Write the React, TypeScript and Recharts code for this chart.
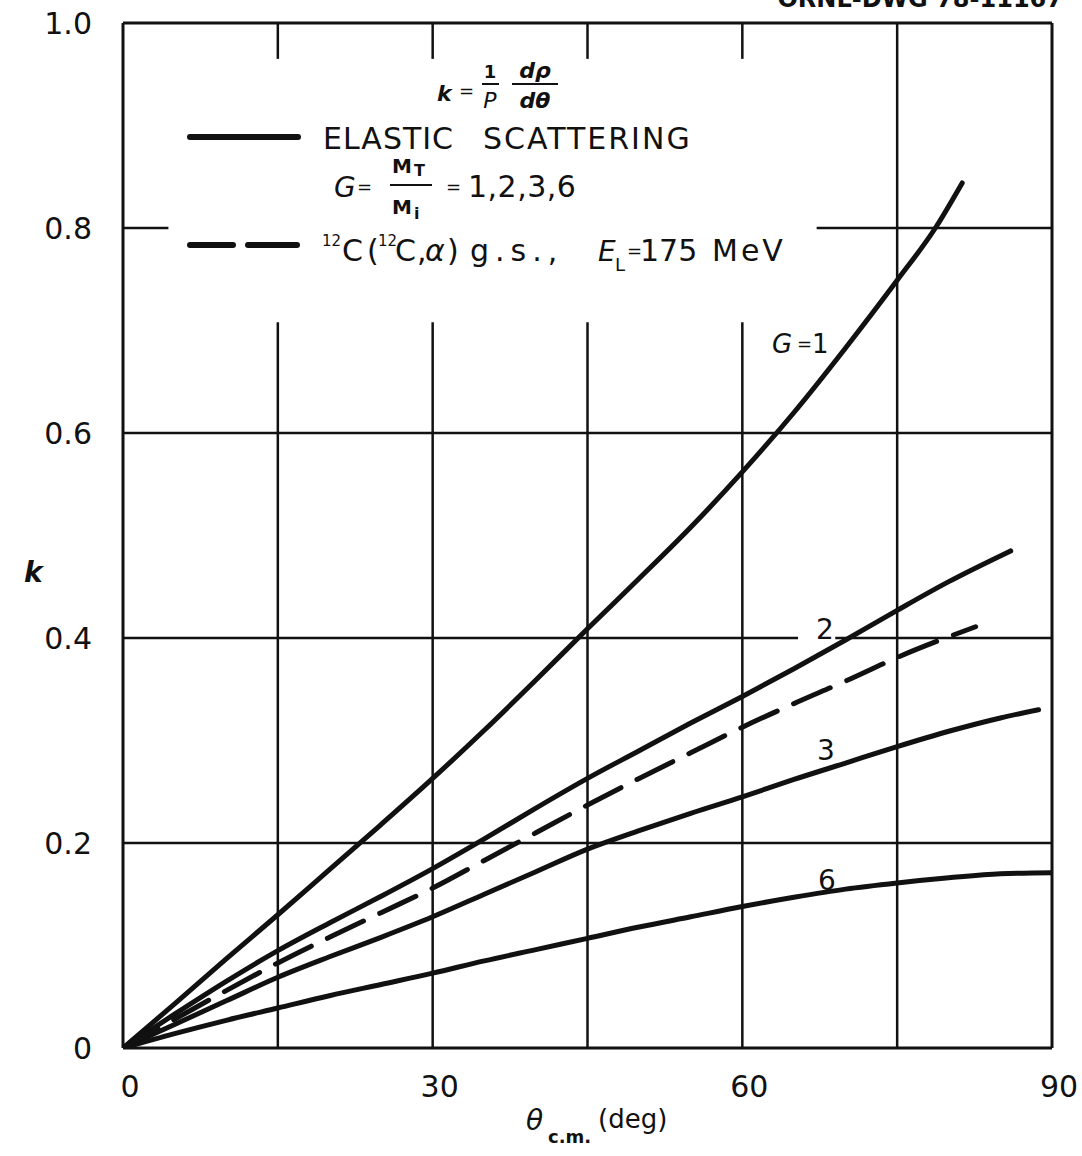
import { Line, LineChart, ReferenceLine, XAxis, YAxis } from "recharts";

const FONT = '"DejaVu Sans", sans-serif';
const INK = "#111";

const xTicks = [0, 30, 60, 90];
const yTicks = [0, 0.2, 0.4, 0.6, 0.8, 1.0];

// elastic scattering, G = M_T / M_i
const g1Theta = [0, 5, 10, 15, 20, 25, 30, 35, 40, 45, 50, 55, 60, 65, 70, 75, 78.7, 81.3];
const g1K = [0, 0.043, 0.087, 0.13, 0.174, 0.218, 0.263, 0.31, 0.359, 0.409, 0.458, 0.508, 0.562, 0.62, 0.683, 0.749, 0.8, 0.844];

const g2Theta = [0, 5, 10, 15, 20, 25, 30, 35, 40, 45, 50, 55, 60, 65, 70, 75, 80, 86];
const g2K = [0, 0.033, 0.065, 0.095, 0.122, 0.148, 0.175, 0.204, 0.234, 0.263, 0.29, 0.317, 0.343, 0.37, 0.398, 0.427, 0.455, 0.485];

const g3Theta = [0, 5, 10, 15, 20, 25, 30, 35, 40, 45, 50, 55, 60, 65, 70, 75, 80, 85, 88.7];
const g3K = [0, 0.023, 0.046, 0.069, 0.089, 0.108, 0.128, 0.15, 0.172, 0.194, 0.212, 0.229, 0.245, 0.262, 0.278, 0.294, 0.309, 0.322, 0.33];

const g6Theta = [0, 5, 10, 15, 20, 25, 30, 35, 40, 45, 50, 55, 60, 65, 70, 75, 80, 85, 90];
const g6K = [0, 0.014, 0.027, 0.039, 0.051, 0.062, 0.073, 0.085, 0.096, 0.107, 0.118, 0.128, 0.138, 0.147, 0.155, 0.161, 0.166, 0.17, 0.171];

// 12C(12C,alpha) g.s., E_L = 175 MeV
const alphaTheta = [0, 5, 10, 15, 20, 25, 30, 35, 40, 45, 50, 55, 60, 65, 70, 75, 82.6];
const alphaK = [0, 0.028, 0.056, 0.083, 0.108, 0.132, 0.156, 0.183, 0.21, 0.237, 0.263, 0.288, 0.313, 0.336, 0.358, 0.381, 0.411];

const toPoints = (xs: number[], ks: number[]) => xs.map((x, i) => ({ x, k: ks[i] }));

const series = [
  { id: "g1", data: toPoints(g1Theta, g1K), dash: undefined },
  { id: "g2", data: toPoints(g2Theta, g2K), dash: undefined },
  { id: "g3", data: toPoints(g3Theta, g3K), dash: undefined },
  { id: "g6", data: toPoints(g6Theta, g6K), dash: undefined },
  { id: "alpha", data: toPoints(alphaTheta, alphaK), dash: "40 18" }
];

// grid is broken around the legend and labels, as in the drawing
const vGrid = [15, 30, 45, 60];
const hGridSegments = [
  { k: 0.2, from: 0, to: 90 },
  { k: 0.4, from: 0, to: 65.4 },
  { k: 0.4, from: 69, to: 90 },
  { k: 0.6, from: 0, to: 90 },
  { k: 0.8, from: 0, to: 4.4 },
  { k: 0.8, from: 67.2, to: 90 }
];

const XTick = ({ x, payload }: any) => (
  <text x={x + 7} y={1097} textAnchor="middle" fontFamily={FONT} fontSize={30} fill={INK}>
    {payload.value}
  </text>
);

const YTick = ({ y, payload }: any) => (
  <text x={92} y={y + 11} textAnchor="end" fontFamily={FONT} fontSize={30} fill={INK}>
    {payload.value === 0 ? "0" : payload.value.toFixed(1)}
  </text>
);

const txt = { fontFamily: FONT, fill: INK } as const;

const Overlay = () => (
  <svg width={1082} height={1156} style={{ position: "absolute", left: 0, top: 0, pointerEvents: "none" }}>
    <text x={1063} y={7} textAnchor="end" fontSize={24} fontWeight="bold" {...txt}>
      ORNL-DWG 78-11167
    </text>

    {/* k = 1/P dp/dθ */}
    <text x={437} y={101} fontSize={22} fontStyle="italic" fontWeight="bold" {...txt}>k</text>
    <text x={459} y={97} fontSize={18} {...txt}>=</text>
    <text x={490} y={78} textAnchor="middle" fontSize={18} fontWeight="bold" {...txt}>1</text>
    <line x1={482} x2={499} y1={84} y2={84} stroke={INK} strokeWidth={2} />
    <text x={490} y={108} textAnchor="middle" fontSize={22} fontStyle="italic" {...txt}>P</text>
    <text x={535} y={78} textAnchor="middle" fontSize={22} fontStyle="italic" fontWeight="bold" {...txt}>dρ</text>
    <line x1={512} x2={558} y1={84} y2={84} stroke={INK} strokeWidth={2} />
    <text x={535} y={108} textAnchor="middle" fontSize={22} fontStyle="italic" fontWeight="bold" {...txt}>dθ</text>

    {/* solid legend entry */}
    <line x1={190} x2={298} y1={137} y2={137} stroke={INK} strokeWidth={6} strokeLinecap="round" />
    <text x={323} y={149} fontSize={30} letterSpacing={1} {...txt}>ELASTIC</text>
    <text x={483} y={149} fontSize={30} letterSpacing={2} {...txt}>SCATTERING</text>

    {/* G = M_T / M_i = 1,2,3,6 */}
    <text x={334} y={197} fontSize={28} fontStyle="italic" {...txt}>G</text>
    <text x={357} y={193} fontSize={18} {...txt}>=</text>
    <text x={392} y={173} fontSize={20} fontWeight="bold" {...txt}>M</text>
    <text x={414} y={176} fontSize={16} fontWeight="bold" {...txt}>T</text>
    <line x1={390} x2={432} y1={185} y2={185} stroke={INK} strokeWidth={2} />
    <text x={392} y={214} fontSize={20} fontWeight="bold" {...txt}>M</text>
    <text x={414} y={219} fontSize={16} fontWeight="bold" {...txt}>i</text>
    <text x={446} y={193} fontSize={18} {...txt}>=</text>
    <text x={468} y={197} fontSize={30} letterSpacing={0.5} {...txt}>1,2,3,6</text>

    {/* dashed legend entry */}
    <line x1={190} x2={233} y1={245} y2={245} stroke={INK} strokeWidth={6} strokeLinecap="round" />
    <line x1={248} x2={297} y1={245} y2={245} stroke={INK} strokeWidth={6} strokeLinecap="round" />
    <text x={322} y={246} fontSize={15} {...txt}>12</text>
    <text x={342} y={261} fontSize={30} {...txt}>C</text>
    <text x={367} y={261} fontSize={30} {...txt}>(</text>
    <text x={378} y={246} fontSize={15} {...txt}>12</text>
    <text x={395} y={261} fontSize={30} {...txt}>C</text>
    <text x={417} y={261} fontSize={30} {...txt}>,</text>
    <text x={425} y={261} fontSize={30} fontStyle="italic" {...txt}>α</text>
    <text x={447} y={261} fontSize={30} {...txt}>)</text>
    <text x={470} y={261} fontSize={30} letterSpacing={6} {...txt}>g.s.,</text>
    <text x={598} y={261} fontSize={28} fontStyle="italic" {...txt}>E</text>
    <text x={615} y={271} fontSize={18} {...txt}>L</text>
    <text x={627} y={257} fontSize={18} {...txt}>=</text>
    <text x={640} y={261} fontSize={30} {...txt}>175</text>
    <text x={712} y={261} fontSize={30} letterSpacing={3} {...txt}>MeV</text>

    {/* curve labels */}
    <text x={772} y={353} fontSize={26} fontStyle="italic" {...txt}>G</text>
    <text x={797} y={350} fontSize={18} {...txt}>=</text>
    <text x={812} y={353} fontSize={26} {...txt}>1</text>
    <text x={825} y={639} textAnchor="middle" fontSize={28} {...txt}>2</text>
    <text x={826} y={760} textAnchor="middle" fontSize={28} {...txt}>3</text>
    <text x={827} y={890} textAnchor="middle" fontSize={28} {...txt}>6</text>

    {/* axis titles */}
    <text x={24} y={582} fontSize={28} fontStyle="italic" fontWeight="bold" {...txt}>k</text>
    <text x={526} y={1130} fontSize={28} fontStyle="italic" {...txt}>θ</text>
    <text x={548} y={1143} fontSize={18} fontWeight="bold" {...txt}>c.m.</text>
    <text x={598} y={1128} fontSize={26} {...txt}>(deg)</text>
  </svg>
);

export default function App() {
  return (
    <div style={{ position: "absolute", left: 0, top: 0, width: 1082, height: 1156, background: "#fff" }}>
      <LineChart width={1082} height={1156} margin={{ top: 23, right: 30, bottom: 0, left: 0 }}>
        <XAxis
          type="number"
          dataKey="x"
          domain={[0, 90]}
          ticks={xTicks}
          height={108}
          tickLine={false}
          axisLine={{ stroke: INK, strokeWidth: 3 }}
          tick={<XTick />}
          allowDataOverflow
        />
        <YAxis
          type="number"
          dataKey="k"
          domain={[0, 1]}
          ticks={yTicks}
          width={123}
          tickLine={false}
          axisLine={{ stroke: INK, strokeWidth: 3 }}
          tick={<YTick />}
          allowDataOverflow
        />
        <ReferenceLine y={1} stroke={INK} strokeWidth={3} />
        <ReferenceLine x={90} stroke={INK} strokeWidth={3} />
        <ReferenceLine x={75} stroke={INK} strokeWidth={2.5} />
        {vGrid.map((v) => (
          <ReferenceLine
            key={`vl${v}`}
            segment={[{ x: v, y: 0 }, { x: v, y: 0.708 }]}
            stroke={INK}
            strokeWidth={2.5}
          />
        ))}
        {vGrid.map((v) => (
          <ReferenceLine
            key={`vt${v}`}
            segment={[{ x: v, y: 0.965 }, { x: v, y: 1 }]}
            stroke={INK}
            strokeWidth={2.5}
          />
        ))}
        {hGridSegments.map((s, i) => (
          <ReferenceLine
            key={`h${i}`}
            segment={[{ x: s.from, y: s.k }, { x: s.to, y: s.k }]}
            stroke={INK}
            strokeWidth={2.5}
          />
        ))}
        {series.map((s) => (
          <Line
            key={s.id}
            data={s.data}
            dataKey="k"
            type="monotone"
            stroke={INK}
            strokeWidth={5}
            strokeDasharray={s.dash}
            strokeLinecap="round"
            dot={false}
            activeDot={false}
            isAnimationActive={false}
          />
        ))}
      </LineChart>
      <Overlay />
    </div>
  );
}
